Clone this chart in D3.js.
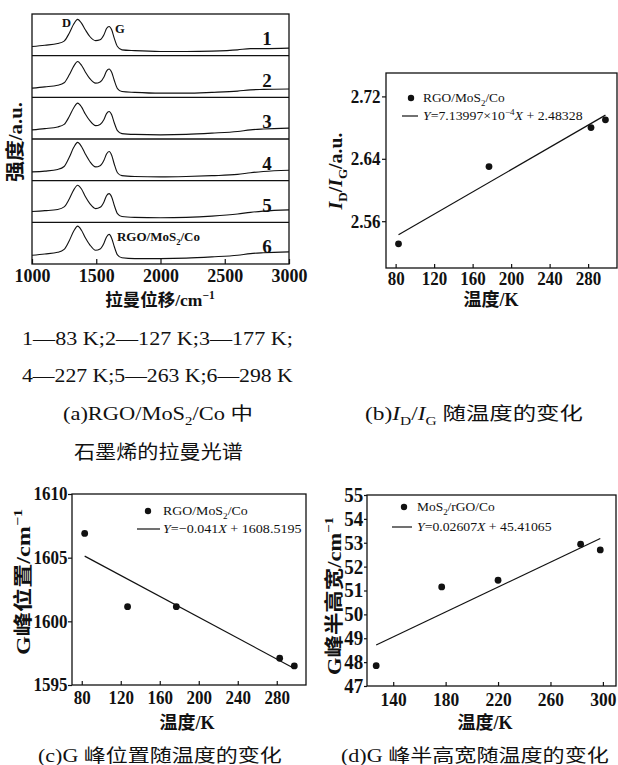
<!DOCTYPE html>
<html><head><meta charset="utf-8">
<script src="https://cdn.jsdelivr.net/npm/d3@7/dist/d3.min.js"></script>
<style>body{margin:0;background:#fff;}</style>
</head><body>
<svg id="c" width="618" height="765" xmlns="http://www.w3.org/2000/svg"></svg>
<script>
// ---------------- data ----------------
const ramanShift = [1000,1100,1200,1250,1290,1325,1355,1385,1415,1450,1495,1530,1560,1580,1600,1620,1640,1665,1700,1800,2000,2200,2400,2600,2700,2800,3000];
const spectrum1 = [0.22,0.25,0.29,0.35,0.54,0.76,0.87,0.78,0.62,0.46,0.36,0.38,0.50,0.65,0.70,0.62,0.42,0.22,0.14,0.12,0.10,0.10,0.11,0.14,0.17,0.17,0.18];
const spectrum2 = [0.22,0.25,0.29,0.35,0.54,0.75,0.86,0.77,0.61,0.45,0.34,0.37,0.49,0.63,0.68,0.60,0.41,0.21,0.14,0.12,0.10,0.10,0.12,0.15,0.18,0.19,0.20];
const spectrum3 = [0.22,0.25,0.29,0.35,0.54,0.75,0.86,0.77,0.60,0.44,0.32,0.35,0.47,0.61,0.66,0.58,0.39,0.20,0.13,0.11,0.10,0.11,0.14,0.18,0.22,0.24,0.26];
const spectrum4 = [0.21,0.23,0.27,0.34,0.56,0.80,0.92,0.82,0.64,0.46,0.33,0.36,0.49,0.64,0.70,0.61,0.40,0.19,0.12,0.10,0.09,0.10,0.12,0.15,0.19,0.22,0.25];
const spectrum5 = [0.26,0.28,0.31,0.37,0.56,0.78,0.89,0.80,0.62,0.45,0.33,0.36,0.49,0.64,0.69,0.61,0.41,0.21,0.14,0.12,0.11,0.12,0.15,0.20,0.24,0.27,0.30];
const spectrum6 = [0.21,0.24,0.28,0.35,0.56,0.79,0.91,0.81,0.63,0.46,0.33,0.36,0.50,0.65,0.71,0.62,0.42,0.22,0.15,0.13,0.13,0.14,0.17,0.21,0.25,0.27,0.29];
const spectrumLabels = ["1","2","3","4","5","6"];
const ramanTicks = [1000,1500,2000,2500,3000];

const tempB = [83,177,283,298];
const ratioB = [2.531,2.630,2.680,2.690];
const fitTempB = [83,298];
const fitRatioB = [2.5425,2.6960];
const tempTicksB = [80,120,160,200,240,280];
const ratioTicksB = [2.56,2.64,2.72];

const tempC = [83,127,177,283,298];
const gPosC = [1606.9,1601.15,1601.15,1597.1,1596.5];
const fitTempC = [83,298];
const fitPosC = [1605.12,1596.30];
const tempTicksC = [80,120,160,200,240,280];
const posTicksC = [1595,1600,1605,1610];

const tempD = [127,177,220,283,298];
const fwhmD = [47.85,51.15,51.43,52.94,52.70];
const fitTempD = [127,298];
const fitFwhmD = [48.72,53.18];
const tempTicksD = [140,180,220,260,300];
const fwhmTicksD = [47,48,49,50,51,52,53,54,55];

// ---------------- helpers ----------------
const SERIF = '"Liberation Serif","Times New Roman","Noto Sans CJK SC",serif';
const CJK = '"Noto Sans CJK SC","Liberation Serif",sans-serif';
const ink = "#111";
const svg = d3.select("#c");

function rich(sel, parts, base){
  let cur = 0;
  parts.forEach(p=>{
    const off = p.sub ? 0.28*base : p.sup ? -0.42*base : 0;
    const t = sel.append("tspan").text(p.t).attr("dy", off-cur);
    if(p.sub||p.sup) t.attr("font-size", base*0.66);
    if(p.it) t.attr("font-style","italic");
    cur = off;
  });
  return sel;
}
function fitW(sel, x0, w){
  const bb = sel.node().getBBox();
  const k = w/bb.width;
  sel.attr("transform", `translate(${x0},0) scale(${k},1) translate(${-x0},0)`);
}
function styleAxis(g, fs, sx=0.92){
  g.select(".domain").remove();
  g.selectAll("line").attr("stroke",ink).attr("stroke-width",1.2);
  g.selectAll("text").attr("font-family",SERIF).attr("font-weight","bold")
    .attr("font-size",fs).attr("fill",ink).attr("transform",`scale(${sx},1)`);
}
function frame(x0,y0,x1,y1){
  svg.append("rect").attr("x",x0).attr("y",y0).attr("width",x1-x0).attr("height",y1-y0)
    .attr("fill","none").attr("stroke",ink).attr("stroke-width",1.3);
}
function label(x,y,parts,fs,opts={}){
  const t = svg.append("text").attr("x",x).attr("y",y)
    .attr("font-family",opts.fam||SERIF).attr("font-size",fs).attr("fill",ink)
    .attr("font-weight",opts.bold?"bold":"normal")
    .attr("text-anchor",opts.anchor||"start");
  rich(t, typeof parts==="string"?[{t:parts}]:parts, fs);
  if(opts.rot){
    let tr = `rotate(-90,${x},${y})`;
    if(opts.len){
      const k = opts.len / t.node().getBBox().width;
      tr += ` translate(${x},${y}) scale(${k},1) translate(${-x},${-y})`;
    }
    t.attr("transform",tr);
  }
  if(opts.width) fitW(t, x, opts.width);
  return t;
}
function scatter(xs,ys,fx,fy,X,Y){
  svg.append("path").attr("d", d3.line().x((d,i)=>X(fx[i])).y(d=>Y(d))(fy))
    .attr("stroke",ink).attr("stroke-width",1.2).attr("fill","none");
  svg.append("g").selectAll("circle").data(ys).join("circle")
    .attr("cx",(d,i)=>X(xs[i])).attr("cy",d=>Y(d)).attr("r",3.4).attr("fill",ink);
}
function legend(dx,dy,lx0,lx1,ly,tx,parts1,w1,parts2,w2){
  svg.append("circle").attr("cx",dx).attr("cy",dy).attr("r",3.2).attr("fill",ink);
  label(tx, dy+4.5, parts1, 13.5, {width:w1});
  svg.append("line").attr("x1",lx0).attr("x2",lx1).attr("y1",ly).attr("y2",ly)
    .attr("stroke",ink).attr("stroke-width",1.2);
  label(tx, ly+4.5, parts2, 13.5, {width:w2});
}

// ---------------- panel (a) ----------------
const ax = d3.scaleLinear().domain([1000,3000]).range([32,289]);
const aBand = d3.scaleBand().domain(spectrumLabels).range([14,264]);
const spectra = [spectrum1,spectrum2,spectrum3,spectrum4,spectrum5,spectrum6];
spectra.forEach((s,i)=>{
  const top = aBand(spectrumLabels[i]), bw = aBand.bandwidth();
  const ys = d3.scaleLinear().domain([0,1]).range([top+bw, top]);
  const ln = d3.line().x((d,j)=>ax(ramanShift[j])).y(d=>ys(d)).curve(d3.curveMonotoneX);
  svg.append("path").attr("d", ln(s)).attr("fill","none").attr("stroke",ink).attr("stroke-width",1.1);
  label(267, top+31, spectrumLabels[i], 19, {bold:true, anchor:"middle"});
  if(i>0) svg.append("line").attr("x1",32).attr("x2",289).attr("y1",top).attr("y2",top)
    .attr("stroke",ink).attr("stroke-width",1.3);
});
const gax = svg.append("g").attr("transform","translate(0,264)")
  .call(d3.axisBottom(ax).tickValues(ramanTicks).tickFormat(d3.format("d")).tickSizeInner(-5).tickSizeOuter(0).tickPadding(5));
styleAxis(gax, 18.5, 0.97);
frame(32,14,289,264);
label(62,27,"D",12.5,{bold:true});
label(115,33,"G",12.5,{bold:true});
label(117,241,[{t:"RGO/MoS"},{t:"2",sub:true},{t:"/Co"}],13,{bold:true,width:83});
label(160,306,[{t:"拉曼位移/cm"},{t:"−1",sup:true}],17.5,{bold:true,anchor:"middle"});
label(22,142,"强度/a.u.",19,{bold:true,anchor:"middle",rot:true,len:80});

// captions
label(22,345,"1—83 K;2—127 K;3—177 K;",18,{width:271});
label(22,382,"4—227 K;5—263 K;6—298 K",18,{width:271});
label(63,420,[{t:"(a)RGO/MoS"},{t:"2",sub:true},{t:"/Co 中"}],18,{width:190});
label(74,459,"石墨烯的拉曼光谱",19,{width:169,fam:CJK});
label(365,420,[{t:"(b)"},{t:"I",it:true},{t:"D",sub:true},{t:"/"},{t:"I",it:true},{t:"G",sub:true},{t:" 随温度的变化"}],18,{width:218});
label(38,762,"(c)G 峰位置随温度的变化",18,{width:244});
label(341,762,"(d)G 峰半高宽随温度的变化",18,{width:268});

// ---------------- panel (b) ----------------
const bx = d3.scaleLinear().domain([70,310]).range([386,617]);
const by = d3.scaleLinear().domain([2.50,2.75]).range([268,73]);
const gbx = svg.append("g").attr("transform","translate(0,268)")
  .call(d3.axisBottom(bx).tickValues(tempTicksB).tickSizeInner(-4).tickSizeOuter(0).tickPadding(4));
styleAxis(gbx,18.5);
const gby = svg.append("g").attr("transform","translate(386,0)")
  .call(d3.axisLeft(by).tickValues(ratioTicksB).tickFormat(d3.format(".2f")).tickSize(4).tickPadding(2));
styleAxis(gby,18.5);
frame(386,73,617,268);
scatter(tempB,ratioB,fitTempB,fitRatioB,bx,by);
legend(411,98,402,418,116,423,[{t:"RGO/MoS"},{t:"2",sub:true},{t:"/Co"}],82,
  [{t:"Y",it:true},{t:"=7.13997×10"},{t:"−4",sup:true},{t:"X",it:true},{t:" + 2.48328"}],160);
label(491,306,"温度/K",18,{bold:true,anchor:"middle"});
label(342,171,[{t:"I",it:true},{t:"D",sub:true},{t:"/"},{t:"I",it:true},{t:"G",sub:true},{t:"/a.u."}],19,{bold:true,anchor:"middle",rot:true,len:78});

// ---------------- panel (c) ----------------
const cx = d3.scaleLinear().domain([70,310]).range([72,306]);
const cy = d3.scaleLinear().domain([1595,1610]).range([685,494]);
const gcx = svg.append("g").attr("transform","translate(0,685)")
  .call(d3.axisBottom(cx).tickValues(tempTicksC).tickSizeInner(-4).tickSizeOuter(0).tickPadding(6));
styleAxis(gcx,18.5);
const gcy = svg.append("g").attr("transform","translate(72,0)")
  .call(d3.axisLeft(cy).tickValues(posTicksC).tickFormat(d3.format("d")).tickSize(4).tickPadding(1));
styleAxis(gcy,18.5);
frame(72,494,306,685);
scatter(tempC,gPosC,fitTempC,fitPosC,cx,cy);
legend(148,511,137,160,529,163,[{t:"RGO/MoS"},{t:"2",sub:true},{t:"/Co"}],85,
  [{t:"Y",it:true},{t:"=−0.041"},{t:"X",it:true},{t:" + 1608.5195"}],139);
label(187,729,"温度/K",18,{bold:true,anchor:"middle"});
label(30,582,[{t:"G峰位置/cm"},{t:"−1",sup:true}],19,{bold:true,anchor:"middle",rot:true,len:146});

// ---------------- panel (d) ----------------
const dx = d3.scaleLinear().domain([120,310]).range([367,616]);
const dy = d3.scaleLinear().domain([47,55]).range([686,495]);
const gdx = svg.append("g").attr("transform","translate(0,686)")
  .call(d3.axisBottom(dx).tickValues(tempTicksD).tickSizeInner(-4).tickSizeOuter(0).tickPadding(7));
styleAxis(gdx,19);
const gdy = svg.append("g").attr("transform","translate(367,0)")
  .call(d3.axisLeft(dy).tickValues(fwhmTicksD).tickFormat(d3.format("d")).tickSize(3).tickPadding(1));
styleAxis(gdy,20,0.95);
frame(367,495,616,686);
scatter(tempD,fwhmD,fitTempD,fitFwhmD,dx,dy);
legend(404,507,392,412,527,417,[{t:"MoS"},{t:"2",sub:true},{t:"/rGO/Co"}],78,
  [{t:"Y",it:true},{t:"=0.02607"},{t:"X",it:true},{t:" + 45.41065"}],135);
label(485,729,"温度/K",18,{bold:true,anchor:"middle"});
label(341,596,[{t:"G峰半高宽/cm"},{t:"−1",sup:true}],19,{bold:true,anchor:"middle",rot:true,len:158});
</script>
</body></html>
